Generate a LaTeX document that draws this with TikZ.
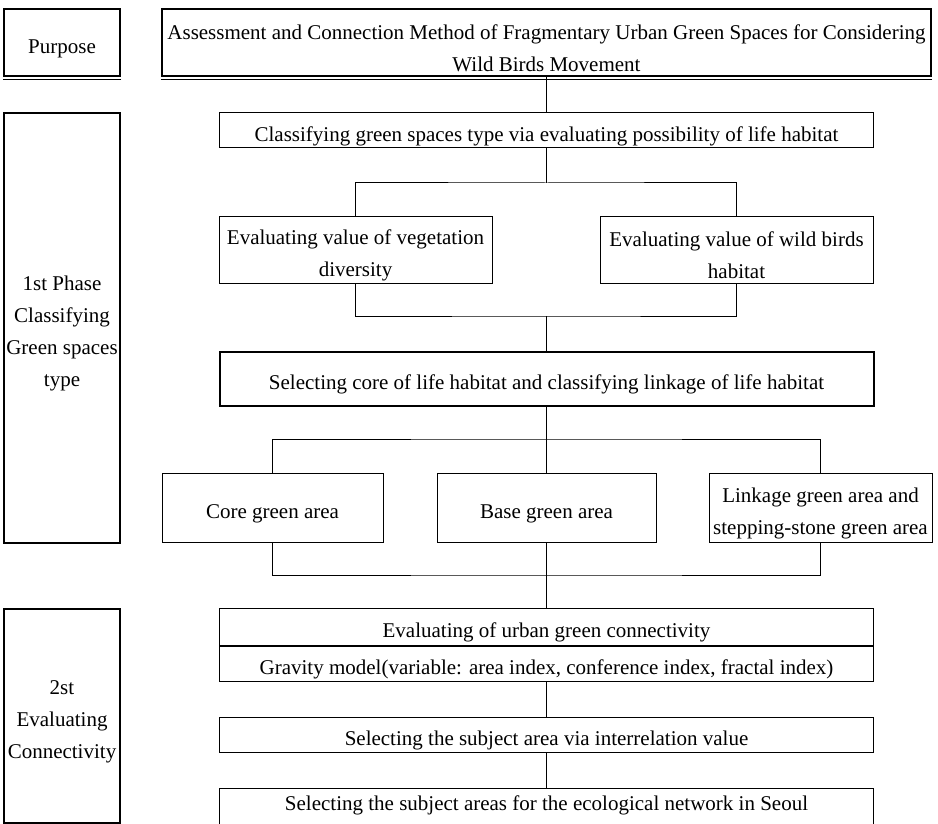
\documentclass[tikz,border=0pt]{standalone}
\usepackage{fontspec}
\setmainfont{Liberation Serif}
\usetikzlibrary{positioning}
\definecolor{lineclr}{RGB}{0,0,0}
\newcommand{\boxfont}{\fontsize{21}{32}\selectfont}
% pushes the text a little lower in its box
\newcommand{\topgap}{\rule{0pt}{26pt}}
\tikzset{
  % Boxes
  box/.style     = {draw=lineclr, line width=1pt, inner sep=0pt, align=center, font=\boxfont},
  boldbox/.style = {box, line width=2pt},
  widebox/.style = {box, minimum width=654pt},
  % Connectors
  link/.style    = {draw=lineclr, line width=1pt},
}
\begin{document}
\begin{tikzpicture}[x=1pt,y=-1pt]
  \useasboundingbox (0,0) rectangle (938,824);
  \clip (0,0) rectangle (938,824);
  % Purpose row
  \node[boldbox, minimum width=116pt, minimum height=67pt] (purpose) at (62,42.5) {\topgap Purpose};
  \node[boldbox, minimum width=769pt, minimum height=67pt] (title) at (546.5,42.5)
    {\topgap Assessment and Connection Method of Fragmentary Urban Green Spaces for Considering\\Wild Birds Movement};
  \draw[link] ([yshift=-3pt]purpose.south west) -- ([yshift=-3pt]purpose.south east);
  \draw[link] ([yshift=-3pt]title.south west) -- ([yshift=-3pt]title.south east);
  % Phase labels
  \node[boldbox, minimum width=116pt, minimum height=430pt] (phaseA) at (62,328)
    {\topgap 1st Phase\\Classifying\\Green spaces\\type};
  \node[boldbox, minimum width=116pt, minimum height=214pt] (phaseB) at (62,716)
    {\topgap 2st\\Evaluating\\Connectivity};
  % 1st phase
  \node[widebox, minimum height=35pt] (classify) at (546.5,130.5)
    {\topgap Classifying green spaces type via evaluating possibility of life habitat};
  \node[box, minimum width=273pt, minimum height=66pt] (veg) at (355.5,250)
    {\topgap Evaluating value of vegetation\\diversity};
  \node[box, minimum width=273pt, minimum height=66pt] (wild) at (736.5,250)
    {\topgap Evaluating value of wild birds\\habitat};
  \node[boldbox, minimum width=654pt, minimum height=54pt] (select) at (546.5,379)
    {\topgap Selecting core of life habitat and classifying linkage of life habitat};
  \node[box, minimum width=221pt, minimum height=69pt] (coregreen) at (272.5,507.5) {\topgap Core green area};
  \node[box, minimum width=219pt, minimum height=69pt] (basegreen) at (546.5,507.5) {\topgap Base green area};
  \node[box, minimum width=223pt, minimum height=69pt] (linkgreen) at (820.5,507.5)
    {\topgap Linkage green area and\\stepping-stone green area};
  % 2st phase
  \node[widebox, minimum height=37pt] (evalconn) at (546.5,626.5) {\topgap Evaluating of urban green connectivity};
  \node[widebox, minimum height=35pt, below=0pt of evalconn] (gravity)
    {\topgap Gravity model(variable: area index, conference index, fractal index)};
  \draw[line width=2pt] (evalconn.south west) -- (evalconn.south east);
  \node[widebox, minimum height=35pt] (subject) at (546.5,734.5)
    {\topgap Selecting the subject area via interrelation value};
  \node[widebox, minimum height=40pt, text depth=10pt] (seoul) at (546.5,808)
    {Selecting the subject areas for the ecological network in Seoul};
  % Junctions
  \coordinate (jA) at (546.5,183);
  \coordinate (jB) at (546.5,316);
  \coordinate (jC) at (546.5,439);
  \coordinate (jD) at (546.5,575);
  % Connectors
  \draw[link] (title.south) -- (classify.north);
  \draw[link] (classify.south) -- (jA);
  \draw[link] (veg.north) |- (jA) -| (wild.north);
  \draw[link] (veg.south) |- (jB) -| (wild.south);
  \draw[link] (jB) -- (select.north);
  \draw[link] (select.south) -- (jC);
  \draw[link] (coregreen.north) |- (jC) -| (linkgreen.north);
  \draw[link] (jC) -- (basegreen.north);
  \draw[link] (coregreen.south) |- (jD) -| (linkgreen.south);
  \draw[link] (basegreen.south) -- (jD);
  \draw[link] (jD) -- (evalconn.north);
  \draw[link] (gravity.south) -- (subject.north);
  \draw[link] (subject.south) -- (seoul.north);
\end{tikzpicture}
\end{document}
